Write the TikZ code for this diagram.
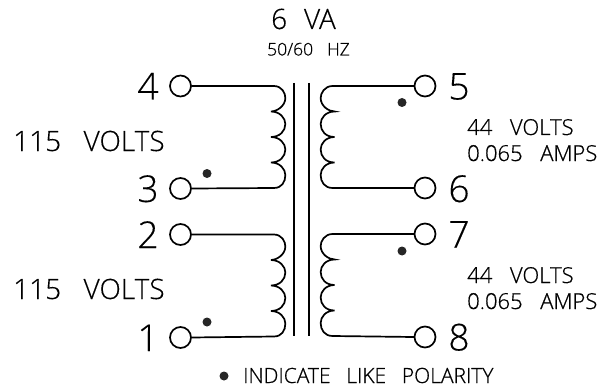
\documentclass[tikz,border=0pt]{standalone}
\usepackage{fontspec}
\setmainfont{Open Sans Light}[FakeBold=0.25]
\newfontfamily\midfont{Open Sans Light}[FakeBold=0.6]
\newcommand{\coilR}{.. controls +(8,0) and +(0,-5) .. ++(11.5,12) .. controls +(0,8) and +(6,0) .. ++(-14.5,13.5)
 .. controls +(9,0) and +(0,-6) .. ++(14.5,12.5) .. controls +(0,7) and +(9,0) .. ++(-14.5,13)
 .. controls +(9,0) and +(0,-6) .. ++(14.5,12.5) .. controls +(0,7) and +(9,0) .. ++(-14.5,13)
 .. controls +(9,0) and +(0,-6) .. ++(14.5,12.5) .. controls +(0,7) and +(8,0) .. ++(-11.5,13)}
\newcommand{\coilL}{.. controls +(-8,0) and +(0,-5) .. ++(-12,12) .. controls +(0,8) and +(-6,0) .. ++(14,13.5)
 .. controls +(-9,0) and +(0,-6) .. ++(-14,12.5) .. controls +(0,7) and +(-9,0) .. ++(14,13)
 .. controls +(-9,0) and +(0,-6) .. ++(-14,12.5) .. controls +(0,7) and +(-9,0) .. ++(14,13)
 .. controls +(-9,0) and +(0,-6) .. ++(-14,12.5) .. controls +(0,7) and +(-8,0) .. ++(12,13)}
\tikzset{
 term/.style={circle,draw,line width=1.7pt,minimum size=21pt,inner sep=0pt},
 wire/.style={line width=1.7pt,line cap=round},
 core/.style={line width=1.8pt},
 pol/.style={circle,fill=black!85,minimum size=9pt,inner sep=0pt},
 pin/.style={font=\fontsize{37}{37}\selectfont,inner sep=0pt,anchor=base},
 big/.style={font=\fontsize{28}{28}\selectfont,inner sep=0pt,anchor=base west},
 mid/.style={font=\midfont\fontsize{22}{22}\selectfont,inner sep=0pt,anchor=base west},
 small/.style={font=\midfont\fontsize{17.5}{17.5}\selectfont,inner sep=0pt,anchor=base west}}
\begin{document}
\begin{tikzpicture}[x=1pt,y=-1pt]
\useasboundingbox (0,0) rectangle (604,390);
\fill[white] (0,0) rectangle (604,390);
% terminals
\node[term] (t4) at (180.5,86) {};
\node[term] (t3) at (180.5,188.5) {};
\node[term] (t2) at (180.5,234.5) {};
\node[term] (t1) at (180.5,337.5) {};
\node[term] (t5) at (425,86) {};
\node[term] (t6) at (425,188) {};
\node[term] (t7) at (425,234) {};
\node[term] (t8) at (425,337) {};
% core
\coordinate (c1a) at (294.3,83); \coordinate (c1b) at (294.3,336);
\coordinate (c2a) at (308.7,83); \coordinate (c2b) at (308.7,336);
\draw[core] (c1a) -- (c1b);
\draw[core] (c2a) -- (c2b);
% coils
\draw[wire] (t4.east) -- ++(82,0) \coilR -- (t3.east);
\draw[wire] (t2.east) -- ++(82,0) \coilR -- (t1.east);
\draw[wire] (t5.west) -- ++(-81,0) \coilL -- (t6.west);
\draw[wire] (t7.west) -- ++(-81,0) \coilL -- (t8.west);
% polarity dots
\node[pol] (d3) at (207,173.5) {};
\node[pol] (d1) at (207,322) {};
\node[pol] (d5) at (402,102.5) {};
\node[pol] (d7) at (402,251) {};
\node[pol] (dk) at (224,376) {};
% pin numbers
\node[pin] (l4) at (148,99.5) {4};
\node[pin] (l3) at (148,202) {3};
\node[pin] (l2) at (148,248) {2};
\node[pin] (l1) at (148,351) {1};
\node[pin] (l5) at (459,99.5) {5};
\node[pin] (l6) at (459,202) {6};
\node[pin] (l7) at (459,247.5) {7};
\node[pin] (l8) at (459,350.5) {8};
% labels
\node[big] (v1) at (13,151) {115\hspace{0.8em}VOLTS};
\node[big] (v2) at (13,299) {115\hspace{0.8em}VOLTS};
\node[big] (va) at (271,29) {6\hspace{0.6em}VA};
\node[small] (hz) at (267,55.5) {50/60\hspace{0.8em}HZ};
\node[mid] (s1a) at (467,135) {44\hspace{0.8em}VOLTS};
\node[mid] (s1b) at (467,161) {0.065\hspace{0.8em}AMPS};
\node[mid] (s2a) at (467,283) {44\hspace{0.8em}VOLTS};
\node[mid] (s2b) at (467,309) {0.065\hspace{0.8em}AMPS};
\node[mid,font=\midfont\fontsize{21}{21}\selectfont] (note) at (243,383) {INDICATE\hspace{0.75em}LIKE\hspace{0.75em}POLARITY};
\end{tikzpicture}
\end{document}
